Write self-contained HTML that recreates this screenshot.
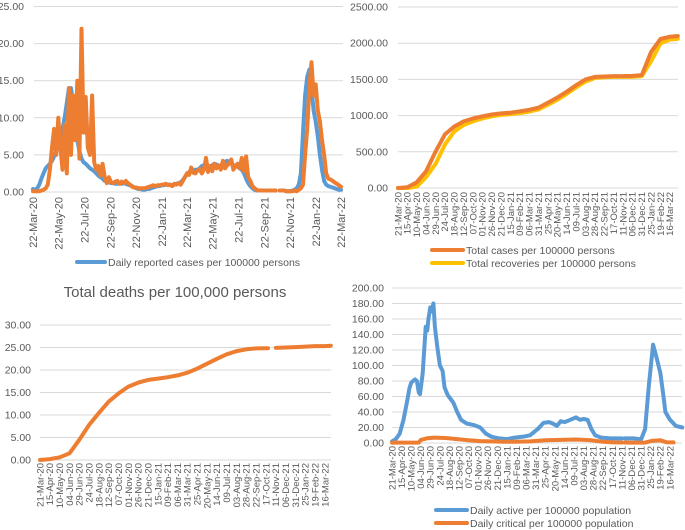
<!DOCTYPE html>
<html><head><meta charset="utf-8"><style>
body{margin:0;background:#fff;}
svg{display:block;font-family:"Liberation Sans",sans-serif;}
</style></head><body>
<svg id="s" width="685" height="530" viewBox="0 0 685 530"></svg>
<script>
// ---- Chart 1: daily reported cases (step 5 days from 22-Mar-20)
const c1Blue=[0.4,0.3,0.5,1,1.8,2.5,3.2,3.5,3.8,4.2,4.8,5.5,6,7,8.5,
10,12,14,14,12,9,7,5.5,4.5,4,3.8,3.5,3.2,3,2.8,
2.5,2.2,2,1.8,1.5,1.4,1.3,1.2,1.2,1.1,1.1,1.2,1.1,1.2,1.1,
1,0.9,0.8,0.6,0.5,0.4,0.4,0.3,0.3,0.4,0.4,0.5,0.6,0.7,0.8,
0.8,0.9,0.9,1,1,1,0.9,1,1.1,1.2,1.3,1.6,2,2.4,2.7,
2.8,2.9,3,3,3.2,3.5,3.6,3.4,3.3,3.5,3.6,3.8,3.7,3.5,3.6,
3.8,4,4.2,4,3.8,3.6,3.5,3.4,3.2,3,2.5,1.8,1.2,0.8,0.5,
0.3,0.2,0.2,0.2,0.2,0.2,0.2,0.2,0.2,0.2,0.2,null,
0.2,0.2,0.2,0.1,0.1,0.1,0.2,0.3,0.5,1,2.5,8,13,15.5,16.5,14,11,9.5,7.5,5,3,1.5,1,0.8,0.7,0.6,0.5,0.4,0.3,0.3];
const c1Orange=[0.1,0.1,0.1,0.1,0.2,0.3,0.5,1,3,6,8.5,5,10,6,3,
9,2.5,14,5,13,7,15,4.5,22,8,12.8,6,5,13,4,
3,3.5,2.2,3.8,2,1.2,2,1.3,1.2,1.4,1.5,1.1,1.4,1.2,1.5,
1.2,1,0.7,0.6,0.6,0.5,0.5,0.5,0.5,0.6,0.7,0.8,0.9,0.8,0.9,
0.9,1,1,1.1,0.9,1,0.8,1.1,1,1.2,1,1.5,2,2.5,2.3,
3.3,2.6,2.5,2.9,3.1,2.5,3,4.6,2.7,3.5,2.8,3.8,3.2,3.6,3,
4.2,3.2,3.6,3.8,4.4,3,3.5,3.8,3.2,4.6,2.8,4.8,2,1.5,0.8,
0.5,0.3,0.2,0.2,0.2,0.2,0.2,0.2,0.2,0.2,0.2,null,
0.2,0.2,0.2,0.1,0.1,0.1,0.1,0.2,0.1,0.3,0.5,1,5,8.5,14,17.5,13,14.5,11,9.5,7,5,2.5,1.8,1.7,1.5,1.3,1.1,0.9,0.7];
const c1TickLabels=["22-Mar-20","22-May-20","22-Jul-20","22-Sep-20","22-Nov-20","22-Jan-21","22-Mar-21","22-May-21","22-Jul-21","22-Sep-21","22-Nov-21","22-Jan-22","22-Mar-22"];
const c1TickDays=[0,61,122,184,245,306,365,426,487,549,610,671,730];
const c1YTicks=[0,5,10,15,20,25];

// ---- Chart 2: cumulative cases / recoveries (days since 21-Mar-20)
const c2Days=[0,25,50,75,100,125,150,175,200,225,250,275,300,325,350,375,400,425,450,475,500,525,550,575,590,593,596,625,650,675,700,725,746];
const c2Cases=[0,10,80,230,500,740,850,920,960,990,1015,1030,1040,1060,1080,1110,1180,1250,1330,1420,1500,1535,1540,1545,1545,null,1545,1548,1560,1880,2060,2090,2100];
const c2Recov=[0,0,20,150,330,600,780,870,920,960,990,1010,1020,1035,1055,1085,1150,1220,1300,1390,1470,1520,1530,1535,1535,null,1535,1535,1545,1750,2000,2050,2060];
const c2YTicks=[0,500,1000,1500,2000,2500];

// shared date tick labels for charts 2-4 (every 25 days)
const dateLabels=["21-Mar-20","15-Apr-20","10-May-20","04-Jun-20","29-Jun-20","24-Jul-20","18-Aug-20","12-Sep-20","07-Oct-20","01-Nov-20","26-Nov-20","21-Dec-20","15-Jan-21","09-Feb-21","06-Mar-21","31-Mar-21","25-Apr-21","20-May-21","14-Jun-21","09-Jul-21","03-Aug-21","28-Aug-21","22-Sep-21","17-Oct-21","11-Nov-21","06-Dec-21","31-Dec-21","25-Jan-22","19-Feb-22","16-Mar-22"];

// ---- Chart 3: total deaths
const c3Days=[0,25,50,75,100,125,150,175,200,225,250,275,300,325,350,375,400,425,450,475,500,525,550,575,580,583,600,625,650,675,700,725,740];
const c3Deaths=[0,0.2,0.6,1.5,4.5,7.8,10.5,13,14.8,16.3,17.2,17.8,18.1,18.4,18.8,19.4,20.3,21.4,22.5,23.5,24.2,24.6,24.8,24.85,24.85,null,24.9,25,25.1,25.2,25.3,25.3,25.4];
const c3YTicks=[0,5,10,15,20,25,30];

// ---- Chart 4: active / critical
const c4ActDays=[0,10,20,30,40,45,50,55,60,65,70,73,80,88,92,95,100,104,108,112,118,125,132,137,145,160,170,180,195,215,230,245,260,280,300,320,340,360,380,395,410,420,430,440,450,465,480,490,500,510,520,530,545,570,600,603,607,630,645,650,660,670,681,690,700,708,713,725,740,757];
const c4Active=[2,5,12,30,55,70,78,80,82,80,65,63,90,150,145,160,175,170,180,150,125,100,93,72,62,52,40,30,25,23,20,12,8,6,5,7,8,10,18,26,27,25,22,28,27,30,33,30,31,30,18,10,7,6,6,null,6,6,5,5,18,75,127,110,90,60,40,30,22,20];
const c4CritDays=[0,70,75,90,110,140,170,200,230,260,290,320,360,400,440,480,520,550,580,600,603,607,620,660,680,700,715,734];
const c4Critical=[0.5,0.5,4,6,7,6.5,5,3.5,2.5,2,1.5,1.5,2,3.5,4,4.5,3.5,1.5,0.8,0.7,null,0.7,0.5,0.5,3,3.5,1,0.8];
const c4YTicks=[0,20,40,60,80,100,120,140,160,180,200];

const NS="http://www.w3.org/2000/svg";
const svg=document.getElementById('s');
function mk(tag,attrs,parent){const e=document.createElementNS(NS,tag);for(const k in attrs)e.setAttribute(k,attrs[k]);(parent||svg).appendChild(e);return e;}
function linePath(xs,ys,xf,yf){let d="",pen=false;for(let i=0;i<xs.length;i++){if(ys[i]===null||ys[i]===undefined){pen=false;continue;}d+=(pen?"L":"M")+xf(xs[i]).toFixed(1)+","+yf(ys[i]).toFixed(1);pen=true;}return d;}
function grid(g,ticks,yf,x0,x1,labX,fmt,fs){
  ticks.forEach(t=>{
    const l=mk('line',{x1:x0,x2:x1,y1:yf(t),y2:yf(t),stroke:'#d9d9d9','stroke-width':1},g);
    
    
    const tx=mk('text',{x:labX,y:yf(t)+3.5,'text-anchor':'end','font-size':fs,fill:'#595959'},g);
    tx.textContent=t.toFixed(2);
    
    
  });
}
function xlabels(g,labels,days,xf,y,fs){
  labels.forEach((lb,i)=>{
    const x=xf(days[i]);
    const t=mk('text',{x:0,y:0,transform:`translate(${(x+fs*0.35).toFixed(1)},${y}) rotate(-90)`,'text-anchor':'end','font-size':fs,fill:'#595959'},g);
    t.textContent=lb;
    
    
  });
}
function series(g,xs,ys,xf,yf,color,name){
  const p=mk('path',{d:linePath(xs,ys,xf,yf),fill:'none',stroke:color,'stroke-width':4,'stroke-linejoin':'round','stroke-linecap':'round'},g);
  
  
}
function legend(g,x1,x2,y,color,text,fs){
  const l=mk('line',{x1:x1,x2:x2,y1:y,y2:y,stroke:color,'stroke-width':4,'stroke-linecap':'round'},g);
  
  
  const t=mk('text',{x:x2+3,y:y+4,'font-size':fs,fill:'#595959'},g);
  t.textContent=text;
  
  
}
const step25=dateLabels.map((_,i)=>i*25);

// Chart 1
{const g=mk('g',{});
 const xf=d=>33+d*(308/730), yf=v=>192-v*(185.5/25);
 grid(g,c1YTicks,yf,34,343,24,'',10.5);
 const days=c1Blue.map((_,i)=>i*5);
 series(g,days,c1Blue,xf,yf,'#5b9bd5','daily-cases-blue-line');
 series(g,days,c1Orange,xf,yf,'#ed7d31','daily-cases-orange-line');
 xlabels(g,c1TickLabels,c1TickDays,xf,197,11);
 legend(g,77,105,262,'#5b9bd5','Daily reported cases per 100000 persons',10.5);}

// Chart 2
{const g=mk('g',{});
 const xf=d=>398+d*0.375, yf=v=>188-v*(181/2500);
 grid(g,c2YTicks,yf,398,678,388,'',10.5);
 series(g,c2Days,c2Recov,xf,yf,'#ffc000','total-recoveries-line');
 series(g,c2Days,c2Cases,xf,yf,'#ed7d31','total-cases-line');
 xlabels(g,dateLabels,step25,xf,192,9.5);
 legend(g,432,463,250,'#ed7d31','Total cases per 100000 persons',10.5);
 legend(g,432,463,263,'#ffc000','Total recoveries per 100000 persons',10.5);}

// Chart 3
{const g=mk('g',{});
 const t=mk('text',{x:175,y:297,'text-anchor':'middle','font-size':15,fill:'#595959'},g);
 t.textContent='Total deaths per 100,000 persons';
 
 
 const xf=d=>40+d*(285/725), yf=v=>460-v*4.5;
 grid(g,c3YTicks,yf,40,331,31,'',10.5);
 series(g,c3Days,c3Deaths,xf,yf,'#ed7d31','total-deaths-line');
 xlabels(g,dateLabels,step25,xf,463,9.5);}

// Chart 4
{const g=mk('g',{});
 const xf=d=>392+d*(278/725), yf=v=>443-v*0.775;
 grid(g,c4YTicks,yf,392,682,384,'',10.5);
 series(g,c4ActDays,c4Active,xf,yf,'#5b9bd5','daily-active-line');
 series(g,c4CritDays,c4Critical,xf,yf,'#ed7d31','daily-critical-line');
 xlabels(g,dateLabels,step25,xf,446,9.5);
 legend(g,436,467,510,'#5b9bd5','Daily active per 100000 population',10.5);
 legend(g,436,467,523,'#ed7d31','Daily critical per 100000 population',10.5);}
</script>
</body></html>
